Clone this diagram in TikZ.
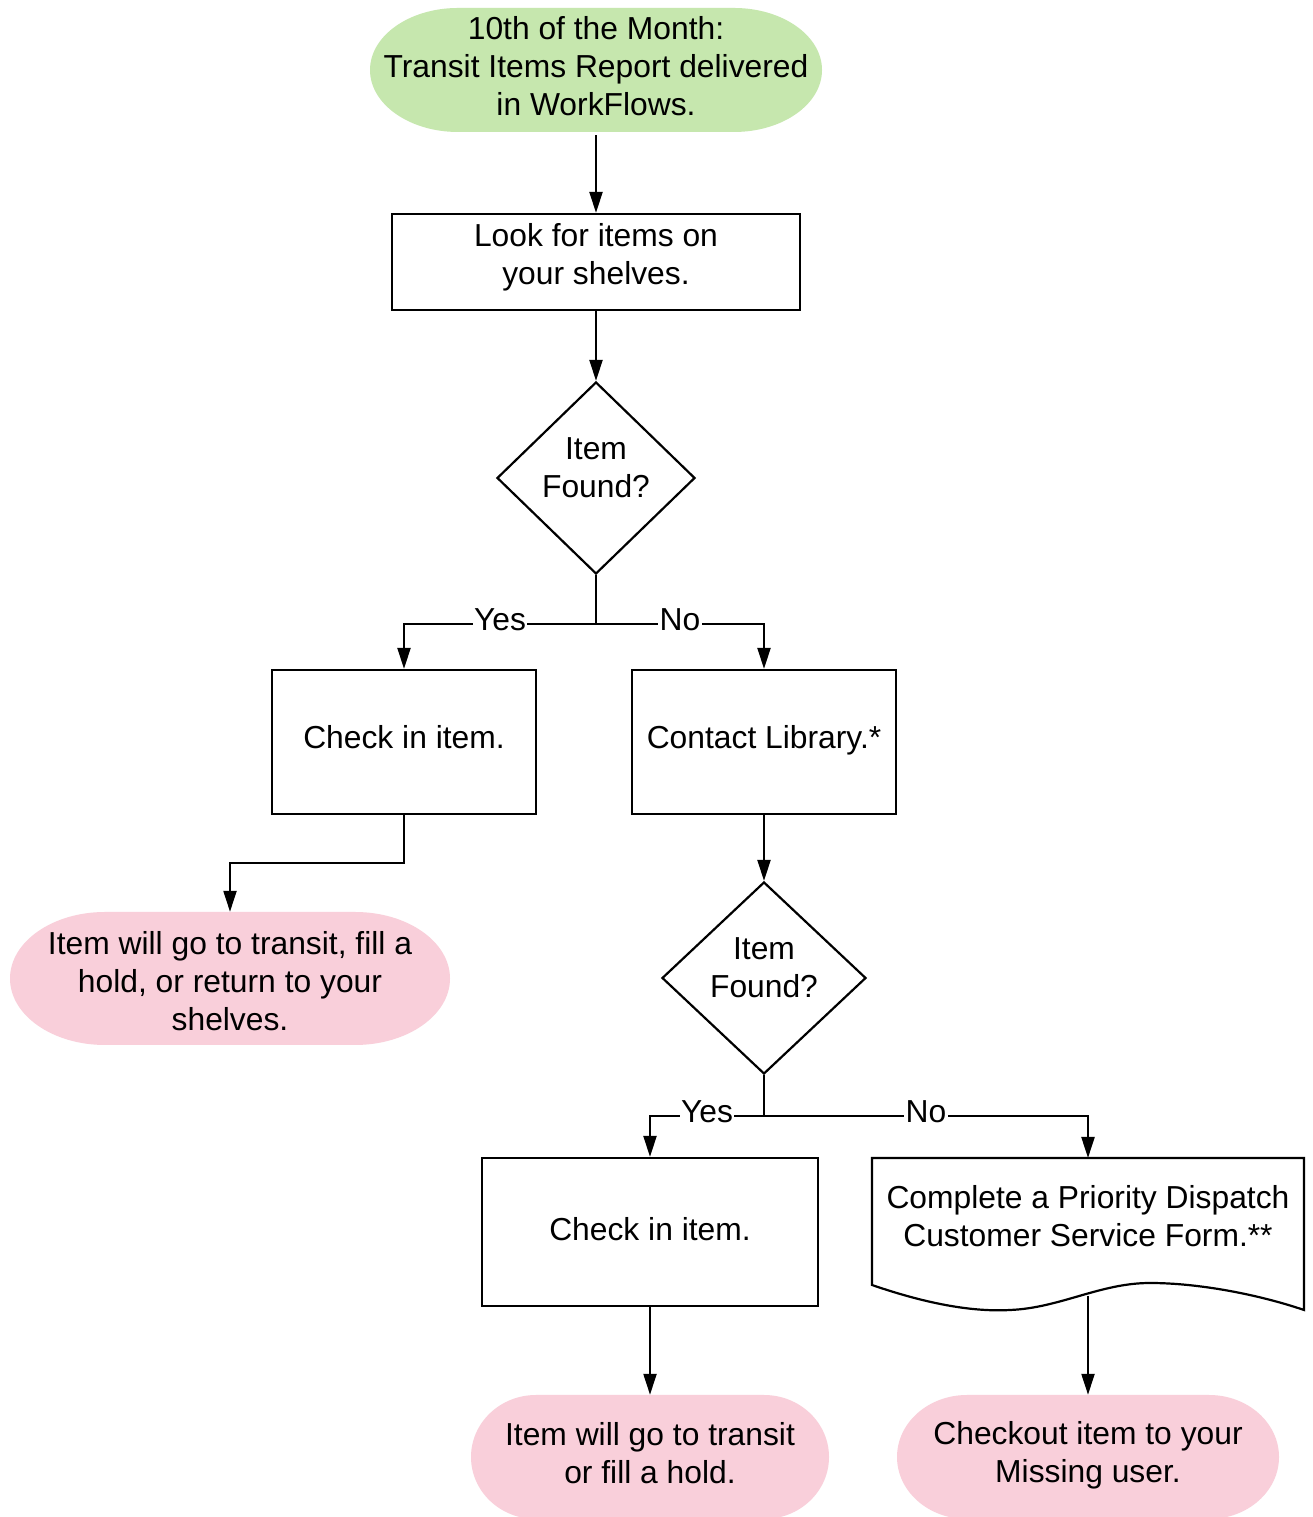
\documentclass[tikz,border=0pt]{standalone}
\usepackage{fontspec}
\setmainfont{Liberation Sans}
\usetikzlibrary{shapes.geometric,arrows.meta,calc}
\definecolor{startgreen}{RGB}{198,231,174}
\definecolor{endpink}{RGB}{249,207,218}
% #1 name, #2 cx, #3 cy, #4 half width, #5 half height, #6 end radius, #7 colour, #8 text, #9 text shift
\newcommand{\terminalshape}[9]{%
  \fill[#7] (#2-#4+#6, #3+#5) -- (#2+#4-#6, #3+#5)
    arc[start angle=90, end angle=-90, x radius=#6, y radius=#5]
    -- (#2-#4+#6, #3-#5)
    arc[start angle=270, end angle=90, x radius=#6, y radius=#5] -- cycle;
  \node[minimum width=2*#4, minimum height=2*#5, inner sep=0pt] (#1) at (#2,#3) {};
  \node (#1txt) at (#2,#3+#9) {#8};
}
\begin{document}
\begin{tikzpicture}[x=1pt,y=1pt,
  every node/.style={font=\fontsize{31.8}{38}\selectfont, align=center},
  proc/.style={draw, line width=2.2pt, inner sep=0pt},
  dia/.style={draw, diamond, line width=2.2pt, inner sep=0pt},
  conn/.style={line width=2.2pt, -{Triangle[length=21pt,width=13pt]}},
  lab/.style={fill=white, inner sep=1.5pt, yshift=4pt},
  docshape/.style={draw, line width=2.2pt, line join=miter}
]
\useasboundingbox (0,0) rectangle (1313,1517);
\clip (0,0) rectangle (1313,1517);
\fill[white] (0,0) rectangle (1313,1517);

\terminalshape{start}{596}{1447}{226}{62}{88}{startgreen}{10th of the Month:\\Transit Items Report delivered\\in WorkFlows.}{4}

\node[proc, minimum width=408, minimum height=96] (look) at (596,1255) {};
\node (looktxt) at (596,1259.5) {Look for items on\\your shelves.};

\node[dia, minimum width=198, minimum height=192] (d1) at (596,1039) {};
\node (d1txt) at (596,1049) {Item\\Found?};

\node[proc, minimum width=264, minimum height=144] (chk1) at (404,775) {};
\node (chk1txt) at (404,780) {Check in item.};

\node[proc, minimum width=264, minimum height=144] (contact) at (764,775) {};
\node (contacttxt) at (764,777) {Contact Library.*};

\terminalshape{end1}{230}{538.5}{220}{66.5}{95}{endpink}{Item will go to transit, fill a\\hold, or return to your\\shelves.}{-3}

\node[dia, minimum width=204, minimum height=192] (d2) at (764,539) {};
\node (d2txt) at (764,549) {Item\\Found?};

\node[proc, minimum width=336, minimum height=148] (chk2) at (650,285) {};
\node (chk2txt) at (650,288) {Check in item.};

\draw[docshape] (872,359) -- (1304,359) -- (1304,207)
  .. controls (1260,222) and (1200,234) .. (1150,234)
  .. controls (1100,234) and (1060,209) .. (1010,207)
  .. controls (975,205) and (930,212) .. (872,232) -- cycle;
\node (form) at (1088,301) {Complete a Priority Dispatch\\Customer Service Form.**};
\coordinate (formtop) at (1088,359);
\coordinate (formbot) at (1088,221);

\terminalshape{end2}{650}{60}{179}{62}{65}{endpink}{Item will go to transit\\or fill a hold.}{4}
\terminalshape{end3}{1088}{60}{191}{62}{70}{endpink}{Checkout item to your\\Missing user.}{2}

% connectors
\draw[conn, shorten <=3pt] (start.south) -- (look.north);
\draw[conn] (look.south) -- (d1.north);
\draw[conn] (d1.south) -- ++(0,-49) -| node[lab, pos=0.25] {Yes} (chk1.north);
\draw[conn] (d1.south) -- ++(0,-49) -| node[lab, pos=0.25] {No} (contact.north);
\draw[conn] (chk1.south) -- ++(0,-48) -| (end1.north);
\draw[conn] (contact.south) -- (d2.north);
\draw[conn] (d2.south) -- ++(0,-41) -| node[lab, pos=0.25] {Yes} (chk2.north);
\draw[conn] (d2.south) -- ++(0,-41) -| node[lab, pos=0.25] {No} (formtop);
\draw[conn] (chk2.south) -- (end2.north);
\draw[conn] (formbot) -- (end3.north);
\end{tikzpicture}
\end{document}
